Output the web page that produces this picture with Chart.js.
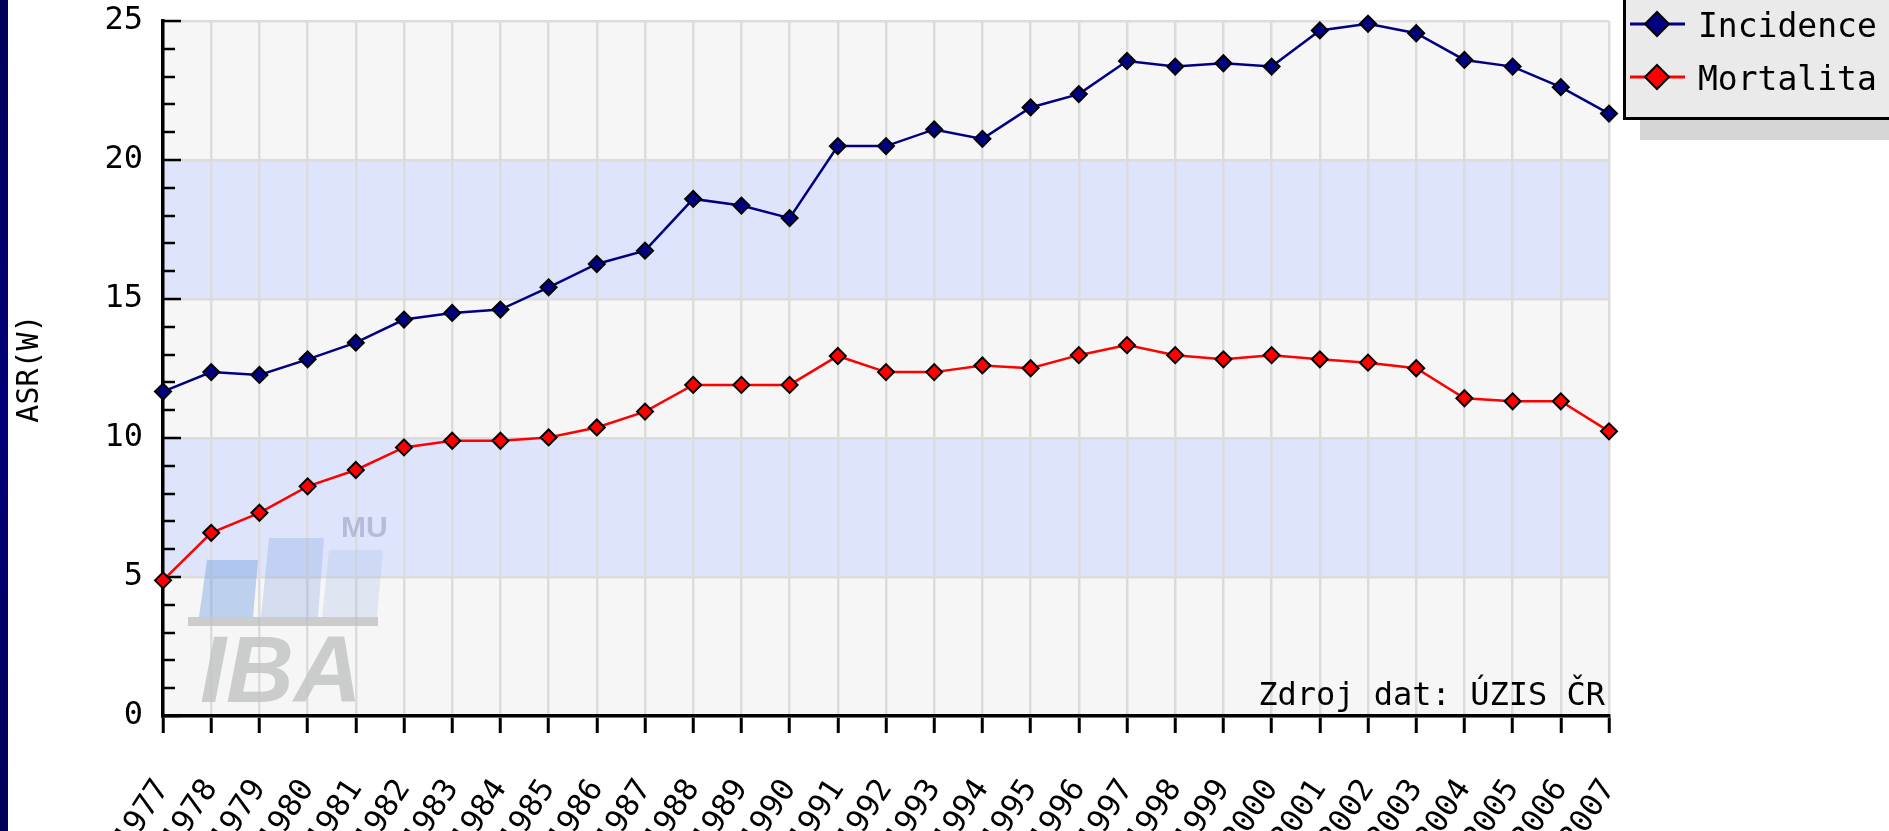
<!DOCTYPE html>
<html><head><meta charset="utf-8">
<script src="https://cdn.jsdelivr.net/npm/chart.js@4.4.1/dist/chart.umd.min.js"></script>
<style>
html,body{margin:0;padding:0;background:#fff;overflow:hidden;}
#wrap{position:relative;width:1889px;height:831px;}
#strip{position:absolute;left:0;top:0;width:8px;height:831px;background:linear-gradient(#000058,#00007a 50%,#000058);}
canvas{position:absolute;left:0;top:0;}
</style></head><body>
<div id="wrap"><canvas id="c" width="1889" height="831"></canvas><div id="strip"></div></div>
<script>
const years = ['1977','1978','1979','1980','1981','1982','1983','1984','1985','1986','1987','1988','1989','1990','1991','1992','1993','1994','1995','1996','1997','1998','1999','2000','2001','2002','2003','2004','2005','2006','2007'];
const incidence = [11.67,12.37,12.27,12.83,13.43,14.26,14.50,14.62,15.42,16.26,16.74,18.60,18.36,17.91,20.50,20.50,21.10,20.76,21.89,22.37,23.56,23.36,23.48,23.36,24.66,24.90,24.56,23.60,23.36,22.62,21.67];
const mortalita = [4.88,6.59,7.31,8.26,8.85,9.66,9.90,9.90,10.02,10.38,10.95,11.91,11.91,11.91,12.95,12.37,12.37,12.61,12.51,12.98,13.34,12.98,12.83,12.98,12.83,12.71,12.51,11.43,11.32,11.32,10.24];
const seriesNames = ['Incidence','Mortalita'];
const seriesColors = ['#000080','#ff0000'];
const yTicks = [0,5,10,15,20,25];
const yTitle = 'ASR(W)';
const sourceNote = 'Zdroj dat: ÚZIS ČR';
const MONO = '"DejaVu Sans Mono", "Liberation Mono", monospace';

function diamond(ctx, x, y, r, fill) {
  ctx.beginPath();
  ctx.moveTo(x - r, y); ctx.lineTo(x, y - r); ctx.lineTo(x + r, y); ctx.lineTo(x, y + r); ctx.closePath();
  ctx.fillStyle = fill; ctx.fill();
  ctx.lineWidth = 2; ctx.strokeStyle = '#000'; ctx.stroke();
}

const bandsPlugin = {
  id: 'bands',
  beforeDraw(chart) {
    const {ctx, chartArea: ca, scales: {y}} = chart;
    ctx.save();
    for (let i = 0; i < yTicks.length - 1; i++) {
      const top = y.getPixelForValue(yTicks[i + 1]);
      const bot = y.getPixelForValue(yTicks[i]);
      ctx.fillStyle = (i % 2 === 1) ? '#dde4fc' : '#f6f6f6';
      ctx.fillRect(ca.left, top, ca.right - ca.left, bot - top);
    }
    ctx.restore();
  },
  beforeDatasetsDraw(chart) {
    const {ctx, chartArea: ca, scales: {y}} = chart;
    ctx.save();
    const poly = (pts, c) => { ctx.beginPath(); ctx.moveTo(pts[0], pts[1]); for (let i = 2; i < pts.length; i += 2) ctx.lineTo(pts[i], pts[i+1]); ctx.closePath(); ctx.fillStyle = c; ctx.fill(); };
    poly([207,560, 258,560, 253,617, 199,617], 'rgba(110,155,225,0.42)');
    poly([269,538, 324,538, 318,617, 261,617], 'rgba(140,170,225,0.33)');
    poly([329,550, 383,550, 377,617, 322,617], 'rgba(170,190,230,0.28)');
    ctx.fillStyle = 'rgba(190,190,190,0.75)';
    ctx.fillRect(188, 617, 190, 9);
    ctx.font = 'italic bold 94px "Liberation Sans", Arial, sans-serif';
    ctx.fillStyle = 'rgba(195,198,198,0.85)';
    ctx.textAlign = 'left'; ctx.textBaseline = 'alphabetic';
    ctx.fillText('IBA', 200, 702);
    ctx.font = 'bold 30px "Liberation Sans", Arial, sans-serif';
    ctx.fillStyle = 'rgba(130,140,175,0.45)';
    ctx.fillText('MU', 341, 537);
    ctx.strokeStyle = '#000'; ctx.lineWidth = 2.5;
    for (let v = yTicks[0]; v <= yTicks[yTicks.length - 1]; v++) {
      const py = Math.round(y.getPixelForValue(v));
      const len = (v % 5 === 0) ? 18 : 12;
      ctx.beginPath(); ctx.moveTo(ca.left, py); ctx.lineTo(ca.left + len, py); ctx.stroke();
    }
    ctx.font = '32px ' + MONO;
    ctx.fillStyle = '#000'; ctx.textAlign = 'right'; ctx.textBaseline = 'alphabetic';
    ctx.fillText(sourceNote, ca.right - 4, ca.bottom - 11);
    ctx.restore();
  },
  afterDraw(chart) {
    const {ctx} = chart;
    ctx.save();
    ctx.fillStyle = '#d6d6d6';
    ctx.fillRect(1640, 20, 260, 120);
    ctx.fillStyle = '#eaeaea';
    ctx.fillRect(1623, -10, 280, 129);
    ctx.strokeStyle = '#000'; ctx.lineWidth = 3;
    ctx.strokeRect(1624.5, -10, 280, 128.5);
    const rows = [24, 77];
    chart.data.datasets.forEach((ds, i) => {
      const yy = rows[i];
      ctx.strokeStyle = ds.borderColor; ctx.lineWidth = 3;
      ctx.beginPath(); ctx.moveTo(1630, yy); ctx.lineTo(1685, yy); ctx.stroke();
      diamond(ctx, 1657, yy, 12, ds.backgroundColor);
      ctx.font = '33px ' + MONO; ctx.fillStyle = '#000';
      ctx.textAlign = 'left'; ctx.textBaseline = 'alphabetic';
      ctx.fillText(ds.label, 1698, yy + 13);
    });
    ctx.restore();
  }
};

new Chart(document.getElementById('c'), {
  type: 'line',
  data: {
    labels: years,
    datasets: [
      {label: seriesNames[0], data: incidence, borderColor: seriesColors[0], backgroundColor: seriesColors[0]},
      {label: seriesNames[1], data: mortalita, borderColor: seriesColors[1], backgroundColor: seriesColors[1]}
    ].map(d => Object.assign(d, {borderWidth: 2.5, pointStyle: 'rectRot', pointRadius: 8, pointBorderColor: '#000', pointBorderWidth: 2, pointBackgroundColor: d.backgroundColor, tension: 0, clip: false, fill: false}))
  },
  options: {
    responsive: false, animation: false, devicePixelRatio: 1,
    layout: {padding: {left: 10, top: 0, right: 280, bottom: 0}},
    plugins: {legend: {display: false}, tooltip: {enabled: false}},
    scales: {
      x: {
        type: 'category', offset: false,
        grid: {color: '#dcdcdc', lineWidth: 2.5, drawTicks: true, tickLength: 17, tickColor: '#000', tickWidth: 3, offset: false},
        border: {color: '#000', width: 3.5},
        ticks: {color: '#000', font: {family: MONO, size: 31}, autoSkip: false, minRotation: 57, maxRotation: 57, padding: 40},
        afterFit: s => { s.height = 115; }
      },
      y: {
        min: 0, max: 25,
        afterBuildTicks: s => { s.ticks = yTicks.map(v => ({value: v})); },
        grid: {color: '#dcdcdc', lineWidth: 2.5, drawTicks: false},
        border: {color: '#000', width: 3.5},
        ticks: {color: '#000', font: {family: MONO, size: 32}, padding: 20},
        title: {display: true, text: yTitle, color: '#000', font: {family: MONO, size: 30}, padding: {top: 2, bottom: 0}},
        afterFit: s => { s.width = 153; s.paddingTop = 21; s.paddingBottom = 0; }
      }
    }
  },
  plugins: [bandsPlugin]
});
</script>
</body></html>
